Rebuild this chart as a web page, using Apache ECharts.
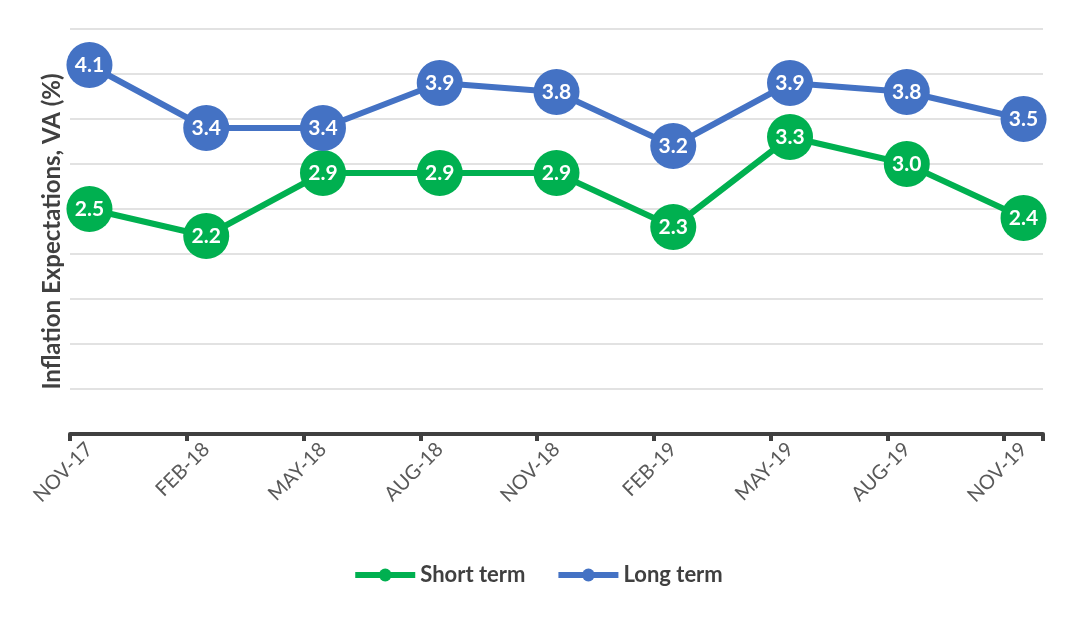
<!DOCTYPE html>
<html>
<head>
<meta charset="utf-8">
<script src="https://cdn.jsdelivr.net/npm/echarts@6/dist/echarts.min.js"></script>
<style>html,body{margin:0;padding:0;background:#fff}#c{width:1075px;height:617px}</style>
</head>
<body>
<div id="c"></div>
<script>
// Survey quarters (tick labels)
var categories = ['NOV-17','FEB-18','MAY-18','AUG-18','NOV-18','FEB-19','MAY-19','AUG-19','NOV-19'];
var shortTerm = [2.5, 2.2, 2.9, 2.9, 2.9, 2.3, 3.3, 3.0, 2.4];
var longTerm  = [4.1, 3.4, 3.4, 3.9, 3.8, 3.2, 3.9, 3.8, 3.5];
var yTicks = [0, 0.5, 1, 1.5, 2, 2.5, 3, 3.5, 4, 4.5];

// Monthly date axis: each quarter label followed by two in-between months
var months = [], shortM = [], longM = [];
categories.forEach(function (c, i) {
  months.push(c); shortM.push(shortTerm[i]); longM.push(longTerm[i]);
  if (i < categories.length - 1) {
    months.push(c + ' +1'); shortM.push(null); longM.push(null);
    months.push(c + ' +2'); shortM.push(null); longM.push(null);
  }
});
var isQuarter = function (idx, val) { return categories.indexOf(val) >= 0; };

var font = 'Lato, "Open Sans", sans-serif';
var labelFmt = function (p) { return p.value == null ? '' : p.value.toFixed(1); };
var chart = echarts.init(document.getElementById('c'));
chart.setOption({
  animation: false,
  textStyle: { fontFamily: font },
  grid: { left: 70, right: 32, top: 29, bottom: 183 },
  legend: {
    bottom: 26, left: 'center',
    itemWidth: 60, itemHeight: 16, itemGap: 30,
    lineStyle: { width: 6 },
    textStyle: { fontSize: 22, color: '#404040', fontWeight: 'bold', fontFamily: font },
    data: ['Short term', 'Long term']
  },
  xAxis: {
    type: 'category',
    data: months,
    boundaryGap: true,
    axisLine: { lineStyle: { color: '#404040', width: 4 } },
    axisTick: { show: true, interval: isQuarter, length: 7, lineStyle: { color: '#404040', width: 4 } },
    axisLabel: { interval: isQuarter, rotate: 45, margin: 12, fontSize: 20, color: '#595959', fontFamily: font },
    splitLine: { show: false }
  },
  yAxis: {
    type: 'value',
    min: yTicks[0], max: yTicks[yTicks.length - 1], interval: 0.5,
    name: 'Inflation Expectations, VA (%)',
    nameLocation: 'middle', nameGap: 6,
    nameTextStyle: { fontSize: 24, fontWeight: 'bold', color: '#404040', fontFamily: font },
    axisLine: { show: false }, axisTick: { show: false }, axisLabel: { show: false },
    splitLine: { lineStyle: { color: '#d9d9d9', width: 1.5 } }
  },
  series: [
    {
      name: 'Short term', type: 'line', data: shortM, connectNulls: true,
      symbol: 'circle', symbolSize: 46,
      itemStyle: { color: '#00B050' },
      lineStyle: { color: '#00B050', width: 6 },
      label: { show: true, position: 'inside', color: '#fff', fontWeight: 'bold', fontSize: 21, fontFamily: font, formatter: labelFmt }
    },
    {
      name: 'Long term', type: 'line', data: longM, connectNulls: true,
      symbol: 'circle', symbolSize: 46,
      itemStyle: { color: '#4472C4' },
      lineStyle: { color: '#4472C4', width: 6 },
      label: { show: true, position: 'inside', color: '#fff', fontWeight: 'bold', fontSize: 21, fontFamily: font, formatter: labelFmt }
    }
  ]
});
</script>
</body>
</html>
